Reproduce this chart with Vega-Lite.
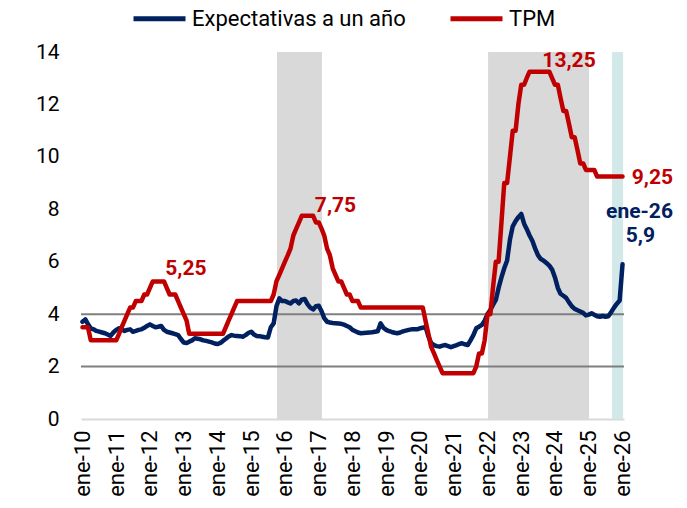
{
  "$schema": "https://vega.github.io/schema/vega-lite/v6.json",
  "width": 543,
  "height": 367,
  "autosize": {"type": "none"},
  "padding": {"left": 81, "top": 52, "right": 63, "bottom": 89},
  "config": {"view": {"stroke": null}, "font": "Roboto"},
  "datasets": {
    "series": [
      {"d":"2010-01-01","exp":3.71,"tpm":3.5},{"d":"2010-02-01","exp":3.80,"tpm":3.5},{"d":"2010-03-01","exp":3.62,"tpm":3.5},{"d":"2010-04-01","exp":3.46,"tpm":3.0},{"d":"2010-05-01","exp":3.42,"tpm":3.0},{"d":"2010-06-01","exp":3.36,"tpm":3.0},{"d":"2010-07-01","exp":3.33,"tpm":3.0},{"d":"2010-08-01","exp":3.30,"tpm":3.0},{"d":"2010-09-01","exp":3.27,"tpm":3.0},{"d":"2010-10-01","exp":3.22,"tpm":3.0},{"d":"2010-11-01","exp":3.17,"tpm":3.0},{"d":"2010-12-01","exp":3.30,"tpm":3.0},
      {"d":"2011-01-01","exp":3.40,"tpm":3.0},{"d":"2011-02-01","exp":3.46,"tpm":3.25},{"d":"2011-03-01","exp":3.42,"tpm":3.5},{"d":"2011-04-01","exp":3.36,"tpm":3.75},{"d":"2011-05-01","exp":3.40,"tpm":4.0},{"d":"2011-06-01","exp":3.42,"tpm":4.25},{"d":"2011-07-01","exp":3.33,"tpm":4.25},{"d":"2011-08-01","exp":3.36,"tpm":4.5},{"d":"2011-09-01","exp":3.40,"tpm":4.5},{"d":"2011-10-01","exp":3.42,"tpm":4.5},{"d":"2011-11-01","exp":3.48,"tpm":4.75},{"d":"2011-12-01","exp":3.55,"tpm":4.75},
      {"d":"2012-01-01","exp":3.61,"tpm":5.0},{"d":"2012-02-01","exp":3.55,"tpm":5.25},{"d":"2012-03-01","exp":3.50,"tpm":5.25},{"d":"2012-04-01","exp":3.52,"tpm":5.25},{"d":"2012-05-01","exp":3.55,"tpm":5.25},{"d":"2012-06-01","exp":3.40,"tpm":5.25},{"d":"2012-07-01","exp":3.33,"tpm":5.0},{"d":"2012-08-01","exp":3.30,"tpm":4.75},{"d":"2012-09-01","exp":3.27,"tpm":4.75},{"d":"2012-10-01","exp":3.24,"tpm":4.75},{"d":"2012-11-01","exp":3.20,"tpm":4.5},{"d":"2012-12-01","exp":3.05,"tpm":4.25},
      {"d":"2013-01-01","exp":2.92,"tpm":4.0},{"d":"2013-02-01","exp":2.90,"tpm":3.75},{"d":"2013-03-01","exp":2.95,"tpm":3.25},{"d":"2013-04-01","exp":3.00,"tpm":3.25},{"d":"2013-05-01","exp":3.08,"tpm":3.25},{"d":"2013-06-01","exp":3.06,"tpm":3.25},{"d":"2013-07-01","exp":3.04,"tpm":3.25},{"d":"2013-08-01","exp":3.00,"tpm":3.25},{"d":"2013-09-01","exp":2.98,"tpm":3.25},{"d":"2013-10-01","exp":2.95,"tpm":3.25},{"d":"2013-11-01","exp":2.92,"tpm":3.25},{"d":"2013-12-01","exp":2.88,"tpm":3.25},
      {"d":"2014-01-01","exp":2.86,"tpm":3.25},{"d":"2014-02-01","exp":2.90,"tpm":3.25},{"d":"2014-03-01","exp":2.98,"tpm":3.25},{"d":"2014-04-01","exp":3.06,"tpm":3.5},{"d":"2014-05-01","exp":3.15,"tpm":3.75},{"d":"2014-06-01","exp":3.20,"tpm":4.0},{"d":"2014-07-01","exp":3.18,"tpm":4.25},{"d":"2014-08-01","exp":3.17,"tpm":4.5},{"d":"2014-09-01","exp":3.16,"tpm":4.5},{"d":"2014-10-01","exp":3.14,"tpm":4.5},{"d":"2014-11-01","exp":3.20,"tpm":4.5},{"d":"2014-12-01","exp":3.28,"tpm":4.5},
      {"d":"2015-01-01","exp":3.33,"tpm":4.5},{"d":"2015-02-01","exp":3.22,"tpm":4.5},{"d":"2015-03-01","exp":3.17,"tpm":4.5},{"d":"2015-04-01","exp":3.16,"tpm":4.5},{"d":"2015-05-01","exp":3.14,"tpm":4.5},{"d":"2015-06-01","exp":3.12,"tpm":4.5},{"d":"2015-07-01","exp":3.11,"tpm":4.5},{"d":"2015-08-01","exp":3.50,"tpm":4.5},{"d":"2015-09-01","exp":3.65,"tpm":4.75},{"d":"2015-10-01","exp":4.30,"tpm":5.25},{"d":"2015-11-01","exp":4.60,"tpm":5.5},{"d":"2015-12-01","exp":4.50,"tpm":5.75},
      {"d":"2016-01-01","exp":4.50,"tpm":6.0},{"d":"2016-02-01","exp":4.45,"tpm":6.25},{"d":"2016-03-01","exp":4.41,"tpm":6.5},{"d":"2016-04-01","exp":4.50,"tpm":7.0},{"d":"2016-05-01","exp":4.52,"tpm":7.25},{"d":"2016-06-01","exp":4.41,"tpm":7.5},{"d":"2016-07-01","exp":4.55,"tpm":7.75},{"d":"2016-08-01","exp":4.58,"tpm":7.75},{"d":"2016-09-01","exp":4.38,"tpm":7.75},{"d":"2016-10-01","exp":4.25,"tpm":7.75},{"d":"2016-11-01","exp":4.18,"tpm":7.75},{"d":"2016-12-01","exp":4.30,"tpm":7.5},
      {"d":"2017-01-01","exp":4.32,"tpm":7.5},{"d":"2017-02-01","exp":4.10,"tpm":7.25},{"d":"2017-03-01","exp":3.85,"tpm":7.0},{"d":"2017-04-01","exp":3.71,"tpm":6.5},{"d":"2017-05-01","exp":3.68,"tpm":6.25},{"d":"2017-06-01","exp":3.66,"tpm":5.75},{"d":"2017-07-01","exp":3.65,"tpm":5.5},{"d":"2017-08-01","exp":3.64,"tpm":5.25},{"d":"2017-09-01","exp":3.63,"tpm":5.25},{"d":"2017-10-01","exp":3.60,"tpm":5.0},{"d":"2017-11-01","exp":3.55,"tpm":4.75},{"d":"2017-12-01","exp":3.50,"tpm":4.75},
      {"d":"2018-01-01","exp":3.40,"tpm":4.5},{"d":"2018-02-01","exp":3.35,"tpm":4.5},{"d":"2018-03-01","exp":3.30,"tpm":4.5},{"d":"2018-04-01","exp":3.27,"tpm":4.25},{"d":"2018-05-01","exp":3.28,"tpm":4.25},{"d":"2018-06-01","exp":3.29,"tpm":4.25},{"d":"2018-07-01","exp":3.30,"tpm":4.25},{"d":"2018-08-01","exp":3.31,"tpm":4.25},{"d":"2018-09-01","exp":3.33,"tpm":4.25},{"d":"2018-10-01","exp":3.35,"tpm":4.25},{"d":"2018-11-01","exp":3.65,"tpm":4.25},{"d":"2018-12-01","exp":3.48,"tpm":4.25},
      {"d":"2019-01-01","exp":3.40,"tpm":4.25},{"d":"2019-02-01","exp":3.35,"tpm":4.25},{"d":"2019-03-01","exp":3.32,"tpm":4.25},{"d":"2019-04-01","exp":3.29,"tpm":4.25},{"d":"2019-05-01","exp":3.27,"tpm":4.25},{"d":"2019-06-01","exp":3.30,"tpm":4.25},{"d":"2019-07-01","exp":3.34,"tpm":4.25},{"d":"2019-08-01","exp":3.37,"tpm":4.25},{"d":"2019-09-01","exp":3.40,"tpm":4.25},{"d":"2019-10-01","exp":3.42,"tpm":4.25},{"d":"2019-11-01","exp":3.42,"tpm":4.25},{"d":"2019-12-01","exp":3.42,"tpm":4.25},
      {"d":"2020-01-01","exp":3.46,"tpm":4.25},{"d":"2020-02-01","exp":3.48,"tpm":4.25},{"d":"2020-03-01","exp":3.52,"tpm":3.75},{"d":"2020-04-01","exp":3.15,"tpm":3.25},{"d":"2020-05-01","exp":2.90,"tpm":2.75},{"d":"2020-06-01","exp":2.82,"tpm":2.5},{"d":"2020-07-01","exp":2.78,"tpm":2.25},{"d":"2020-08-01","exp":2.76,"tpm":2.0},{"d":"2020-09-01","exp":2.80,"tpm":1.75},{"d":"2020-10-01","exp":2.82,"tpm":1.75},{"d":"2020-11-01","exp":2.78,"tpm":1.75},{"d":"2020-12-01","exp":2.74,"tpm":1.75},
      {"d":"2021-01-01","exp":2.78,"tpm":1.75},{"d":"2021-02-01","exp":2.82,"tpm":1.75},{"d":"2021-03-01","exp":2.86,"tpm":1.75},{"d":"2021-04-01","exp":2.89,"tpm":1.75},{"d":"2021-05-01","exp":2.85,"tpm":1.75},{"d":"2021-06-01","exp":2.82,"tpm":1.75},{"d":"2021-07-01","exp":3.00,"tpm":1.75},{"d":"2021-08-01","exp":3.20,"tpm":1.75},{"d":"2021-09-01","exp":3.46,"tpm":2.0},{"d":"2021-10-01","exp":3.52,"tpm":2.5},{"d":"2021-11-01","exp":3.59,"tpm":2.5},{"d":"2021-12-01","exp":3.75,"tpm":3.0},
      {"d":"2022-01-01","exp":4.00,"tpm":4.0},{"d":"2022-02-01","exp":4.16,"tpm":4.0},{"d":"2022-03-01","exp":4.35,"tpm":5.0},{"d":"2022-04-01","exp":4.54,"tpm":6.0},{"d":"2022-05-01","exp":5.00,"tpm":6.0},{"d":"2022-06-01","exp":5.40,"tpm":7.5},{"d":"2022-07-01","exp":5.75,"tpm":9.0},{"d":"2022-08-01","exp":6.05,"tpm":9.0},{"d":"2022-09-01","exp":6.85,"tpm":10.0},{"d":"2022-10-01","exp":7.35,"tpm":11.0},{"d":"2022-11-01","exp":7.55,"tpm":11.0},{"d":"2022-12-01","exp":7.70,"tpm":12.0},
      {"d":"2023-01-01","exp":7.82,"tpm":12.75},{"d":"2023-02-01","exp":7.45,"tpm":12.75},{"d":"2023-03-01","exp":7.25,"tpm":13.0},{"d":"2023-04-01","exp":7.00,"tpm":13.25},{"d":"2023-05-01","exp":6.80,"tpm":13.25},{"d":"2023-06-01","exp":6.50,"tpm":13.25},{"d":"2023-07-01","exp":6.25,"tpm":13.25},{"d":"2023-08-01","exp":6.10,"tpm":13.25},{"d":"2023-09-01","exp":6.04,"tpm":13.25},{"d":"2023-10-01","exp":5.95,"tpm":13.25},{"d":"2023-11-01","exp":5.85,"tpm":13.25},{"d":"2023-12-01","exp":5.70,"tpm":13.0},
      {"d":"2024-01-01","exp":5.40,"tpm":12.75},{"d":"2024-02-01","exp":5.00,"tpm":12.75},{"d":"2024-03-01","exp":4.78,"tpm":12.25},{"d":"2024-04-01","exp":4.70,"tpm":11.75},{"d":"2024-05-01","exp":4.62,"tpm":11.75},{"d":"2024-06-01","exp":4.45,"tpm":11.25},{"d":"2024-07-01","exp":4.30,"tpm":10.75},{"d":"2024-08-01","exp":4.20,"tpm":10.75},{"d":"2024-09-01","exp":4.15,"tpm":10.25},{"d":"2024-10-01","exp":4.10,"tpm":9.75},{"d":"2024-11-01","exp":4.05,"tpm":9.75},{"d":"2024-12-01","exp":3.95,"tpm":9.5},
      {"d":"2025-01-01","exp":3.98,"tpm":9.5},{"d":"2025-02-01","exp":4.03,"tpm":9.5},{"d":"2025-03-01","exp":3.98,"tpm":9.5},{"d":"2025-04-01","exp":3.92,"tpm":9.25},{"d":"2025-05-01","exp":3.90,"tpm":9.25},{"d":"2025-06-01","exp":3.93,"tpm":9.25},{"d":"2025-07-01","exp":3.90,"tpm":9.25},{"d":"2025-08-01","exp":3.92,"tpm":9.25},{"d":"2025-09-01","exp":4.08,"tpm":9.25},{"d":"2025-10-01","exp":4.25,"tpm":9.25},{"d":"2025-11-01","exp":4.40,"tpm":9.25},{"d":"2025-12-01","exp":4.52,"tpm":9.25},
      {"d":"2026-01-01","exp":5.90,"tpm":9.25}
    ],
    "greyBands": [
      {"start":"2015-10-07","end":"2017-02-05"},
      {"start":"2022-01-07","end":"2025-01-04"}
    ],
    "tealBand": [
      {"start":"2025-09-10","end":"2026-01-07"}
    ],
    "refs": [{"y":2},{"y":4}],
    "annTpm": [
      {"date":"2013-01-25","value":5.72,"label":"5,25"},
      {"date":"2017-07-01","value":8.13,"label":"7,75"},
      {"date":"2024-06-01","value":13.64,"label":"13,25"},
      {"date":"2026-11-21","value":9.21,"label":"9,25"}
    ],
    "annExp": [
      {"date":"2026-07-04","value":7.90,"label":"ene-26"},
      {"date":"2026-07-13","value":7.00,"label":"5,9"}
    ]
  },
  "layer": [
    {
      "data": {"name": "greyBands"},
      "mark": {"type": "rect", "color": "#D9D9D9"},
      "encoding": {
        "x": {"field": "start", "type": "temporal", "title": null, "scale": {"type": "utc", "domain": [{"year":2009,"month":12,"date":16,"utc":true},{"year":2026,"month":1,"date":17,"utc":true}]}},
        "x2": {"field": "end"}
      }
    },
    {
      "data": {"name": "tealBand"},
      "mark": {"type": "rect", "color": "#D2E8E9"},
      "encoding": {
        "x": {"field": "start", "type": "temporal", "title": null},
        "x2": {"field": "end"}
      }
    },
    {
      "data": {"name": "refs"},
      "mark": {"type": "rule", "color": "#7F7F7F", "strokeWidth": 2},
      "encoding": {
        "y": {"field": "y", "type": "quantitative", "title": null}
      }
    },
    {
      "data": {"name": "series"},
      "transform": [{"fold": ["exp", "tpm"], "as": ["key", "val"]}],
      "mark": {"type": "line", "strokeWidth": 4.5, "strokeJoin": "round", "strokeCap": "round"},
      "encoding": {
        "x": {
          "field": "d", "type": "temporal", "title": null,
          "axis": {
            "tickCount": {"interval": "year", "step": 1},
            "labelExpr": "'ene-' + utcFormat(datum.value, '%y')",
            "labelAngle": -90,
            "labelFontSize": 22,
            "labelColor": "#000000",
            "labelPadding": 11,
            "labelOverlap": false,
            "labelBound": false,
            "labelFlush": false,
            "ticks": false,
            "grid": false,
            "domainColor": "#D9D9D9",
            "domainWidth": 2
          }
        },
        "y": {
          "field": "val", "type": "quantitative",
          "scale": {"domain": [0, 14], "nice": false},
          "axis": {
            "title": "%",
            "titleFontSize": 22,
            "titleFontWeight": "normal",
            "titleColor": "#595959",
            "titlePadding": 2,
            "values": [0, 2, 4, 6, 8, 10, 12, 14],
            "labelFontSize": 21,
            "labelColor": "#000000",
            "labelPadding": 22,
            "domain": false,
            "ticks": false,
            "grid": false
          }
        },
        "color": {
          "field": "key", "type": "nominal",
          "scale": {"domain": ["exp", "tpm"], "range": ["#002060", "#C00000"]},
          "legend": {
            "orient": "none",
            "legendX": 50,
            "legendY": -62,
            "direction": "horizontal",
            "title": null,
            "symbolType": "stroke",
            "symbolSize": 2704,
            "symbolStrokeWidth": 5,
            "labelFontSize": 22,
            "labelColor": "#000000",
            "labelOffset": 4,
            "labelLimit": 0,
            "columnPadding": 34,
            "labelExpr": "datum.label == 'exp' ? 'Expectativas a un año' : 'TPM'"
          }
        }
      }
    },
    {
      "data": {"name": "annTpm"},
      "mark": {"type": "text", "color": "#C00000", "fontSize": 21, "fontWeight": "bold", "align": "center", "baseline": "middle"},
      "encoding": {
        "x": {"field": "date", "type": "temporal", "title": null},
        "y": {"field": "value", "type": "quantitative", "title": null},
        "text": {"field": "label"}
      }
    },
    {
      "data": {"name": "annExp"},
      "mark": {"type": "text", "color": "#002060", "fontSize": 21, "fontWeight": "bold", "align": "center", "baseline": "middle"},
      "encoding": {
        "x": {"field": "date", "type": "temporal", "title": null},
        "y": {"field": "value", "type": "quantitative", "title": null},
        "text": {"field": "label"}
      }
    }
  ]
}
